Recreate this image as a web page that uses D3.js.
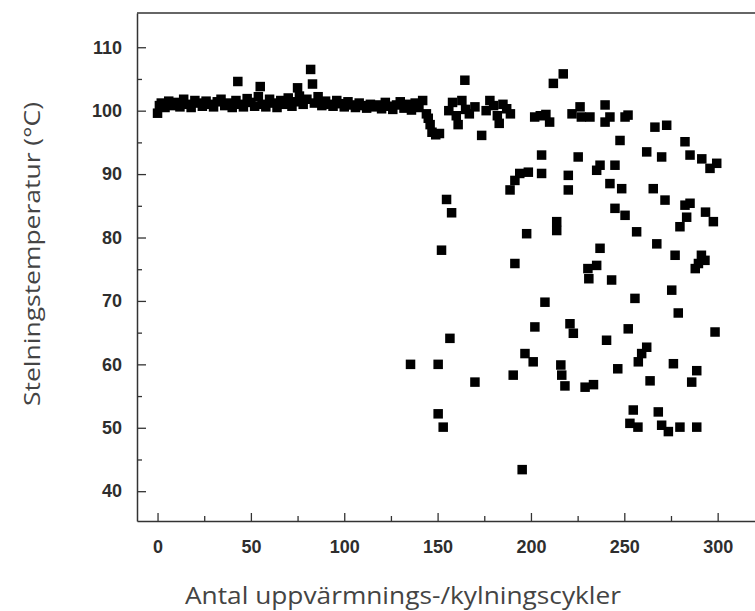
<!DOCTYPE html>
<html>
<head>
<meta charset="utf-8">
<script src="https://cdn.jsdelivr.net/npm/d3@7"></script>
<style>
  html, body { margin: 0; padding: 0; background: #fff; }
  svg { display: block; }
</style>
</head>
<body>
<svg id="chart" width="755" height="611"></svg>
<script>
// ---- data ----
// dense run, cycles 0–151
const bandCycles = [0,1,2,4,6,8,10,12,14,16,18,20,22,24,26,28,30,32,34,36,38,40,42,43,44,46,48,50,52,54,55,56,58,60,62,64,66,68,70,72,74,75,76,78,80,82,83,84,86,88,90,92,94,96,98,100,102,104,106,108,110,112,114,116,118,120,122,124,126,128,130,132,134,136,138,140,142,144,145,146,147,149,151];
const bandTemps  = [99.6,100.8,101.2,100.5,101.5,100.8,101.3,100.6,101.8,101.0,100.5,101.6,101.2,100.7,101.5,101.0,100.6,101.4,101.8,100.8,101.2,100.5,101.6,104.6,101.0,100.6,101.9,101.3,100.7,102.2,103.8,101.0,100.6,101.8,101.2,100.5,101.6,101.0,102.0,100.7,101.4,103.6,102.3,101.0,101.8,106.5,104.2,101.2,102.2,100.8,101.5,101.0,100.7,101.6,101.1,100.6,101.4,100.9,100.5,101.2,100.8,100.4,101.0,100.6,100.9,100.3,101.3,100.7,100.2,100.9,101.4,100.4,101.0,100.1,101.2,100.5,101.6,99.5,98.8,97.8,96.6,96.2,96.4];

// scattered points, cycles 135–300
const scatterCycles = [156,158,160,161,163,165,167,170,173.6,176,178,180,182,183,185,187,189,202,205,208,210,222,226.3,227,231.6,239.7,239.7,242.3,250.4,252,164.6,212,217.3,
  154.8,157.5,152.1,156.6,150.3,135.5,150.3,153,170,
  188.8,191.4,194,198.6,205.7,205.7,191.4,190.5,195.3,
  197.7,196.8,201.2,202.1,207.5,213.8,213.8,220,220,225.3,
  216,216.5,218.2,220.9,222.7,229,233.5,
  230.5,231,235.2,237,243.2,235.2,237,245,242.3,248.6,247.7,
  245,250.4,256.6,240.5,246.5,252.1,255.7,
  257.5,259.3,262,263.8,254.8,253,257.3,
  262,266.4,272.7,270,265.5,271.8,
  267.4,277.2,279.8,283.4,282.5,285.2,
  282.5,285.2,291.5,295.9,299.5,293.5,297.7,
  288,289.7,291.3,293.2,275.4,278.9,298.6,
  276.3,288.8,286.1,268.2,270,273.6,279.8,288.8];
const scatterTemps = [100.0,101.3,99.2,97.8,101.6,100.2,99.5,100.6,96.1,100.0,101.6,100.8,99.2,98.0,101.0,100.3,99.5,99.0,99.2,99.4,98.2,99.5,100.6,99.0,99.0,100.9,98.2,99.0,99.0,99.3,104.8,104.3,105.8,
  86.0,83.9,78.0,64.1,60.0,60.0,52.2,50.1,57.2,
  87.5,89.0,90.1,90.3,90.1,93.0,75.9,58.3,43.4,
  80.6,61.7,60.4,65.9,69.8,81.1,82.5,89.8,87.5,92.7,
  59.9,58.3,56.6,66.4,64.9,56.4,56.8,
  75.1,73.5,75.6,78.3,73.3,90.6,91.4,91.4,88.5,87.7,95.3,
  84.6,83.5,80.9,63.8,59.3,65.6,70.4,
  60.4,61.7,62.7,57.4,52.8,50.7,50.1,
  93.5,97.4,97.7,92.7,87.7,85.9,
  79.0,77.2,81.7,83.2,85.1,85.4,
  95.1,93.0,92.4,90.9,91.7,84.0,82.5,
  75.1,75.9,77.2,76.4,71.7,68.1,65.1,
  60.1,59.0,57.2,52.5,50.4,49.4,50.1,50.1];

const xTicks = [0,50,100,150,200,250,300];
const xMinor = [25,75,125,175,225,275];
const yTicks = [40,50,60,70,80,90,100,110];
const yMinor = [45,55,65,75,85,95,105];

const xLabel = "Antal uppvärmnings-/kylningscykler";
const yLabel = "Stelningstemperatur (°C)";

// ---- drawing ----
const svg = d3.select("#chart");
const pLeft = 137, pTop = 13, pRight = 755, pBottom = 521;

const x = d3.scaleLinear().domain([-11, 320]).range([pLeft, pRight]);
const y = d3.scaleLinear().domain([35.3, 115.4]).range([pBottom, pTop]);

const points = bandCycles.map((c, i) => ({c, t: bandTemps[i]}))
  .concat(scatterCycles.map((c, i) => ({c, t: scatterTemps[i]})));

svg.append("defs").append("clipPath").attr("id", "clip")
  .append("rect").attr("x", pLeft).attr("y", pTop).attr("width", pRight - pLeft).attr("height", pBottom - pTop);

const ms = 9.5;
svg.append("g").attr("clip-path", "url(#clip)")
  .selectAll("rect").data(points).join("rect")
  .attr("x", d => x(d.c) - ms / 2)
  .attr("y", d => y(d.t) - ms / 2)
  .attr("width", ms).attr("height", ms)
  .attr("fill", "#000");

// frame top
svg.append("line").attr("x1", pLeft).attr("x2", pRight).attr("y1", pTop).attr("y2", pTop)
  .attr("stroke", "#333").attr("stroke-width", 1.5);

function styleAxis(g) {
  g.select(".domain").attr("stroke", "#333").attr("stroke-width", 1.5);
  g.selectAll(".tick line").attr("stroke", "#333").attr("stroke-width", 1.3);
  g.selectAll(".tick text")
    .attr("font-family", "'Liberation Sans', Arial, sans-serif")
    .attr("font-size", 18).attr("font-weight", "bold").attr("fill", "#2e2e2e");
}

const yAxis = svg.append("g").attr("transform", `translate(${pLeft},0)`)
  .call(d3.axisLeft(y).tickValues(yTicks).tickSizeInner(-9).tickSizeOuter(0).tickPadding(15).tickFormat(d3.format("d")));
styleAxis(yAxis);
const yAxisMinor = svg.append("g").attr("transform", `translate(${pLeft},0)`)
  .call(d3.axisLeft(y).tickValues(yMinor).tickSizeInner(-5).tickSizeOuter(0).tickFormat(""));
styleAxis(yAxisMinor);
yAxisMinor.select(".domain").remove();

const xAxis = svg.append("g").attr("transform", `translate(0,${pBottom})`)
  .call(d3.axisBottom(x).tickValues(xTicks).tickSizeInner(-8).tickSizeOuter(0).tickPadding(19).tickFormat(d3.format("d")));
styleAxis(xAxis);
const xAxisMinor = svg.append("g").attr("transform", `translate(0,${pBottom})`)
  .call(d3.axisBottom(x).tickValues(xMinor).tickSizeInner(-5).tickSizeOuter(0).tickFormat(""));
styleAxis(xAxisMinor);
xAxisMinor.select(".domain").remove();

svg.append("text")
  .attr("x", 403).attr("y", 604)
  .attr("text-anchor", "middle")
  .attr("font-family", "'Open Sans', sans-serif")
  .attr("font-size", 24).attr("fill", "#444")
  .attr("textLength", 436).attr("lengthAdjust", "spacingAndGlyphs")
  .text(xLabel);

svg.append("text")
  .attr("transform", "translate(40,254) rotate(-90)")
  .attr("text-anchor", "middle")
  .attr("font-family", "'Open Sans', sans-serif")
  .attr("font-size", 22).attr("fill", "#444")
  .attr("textLength", 304).attr("lengthAdjust", "spacingAndGlyphs")
  .text(yLabel);
</script>
</body>
</html>
